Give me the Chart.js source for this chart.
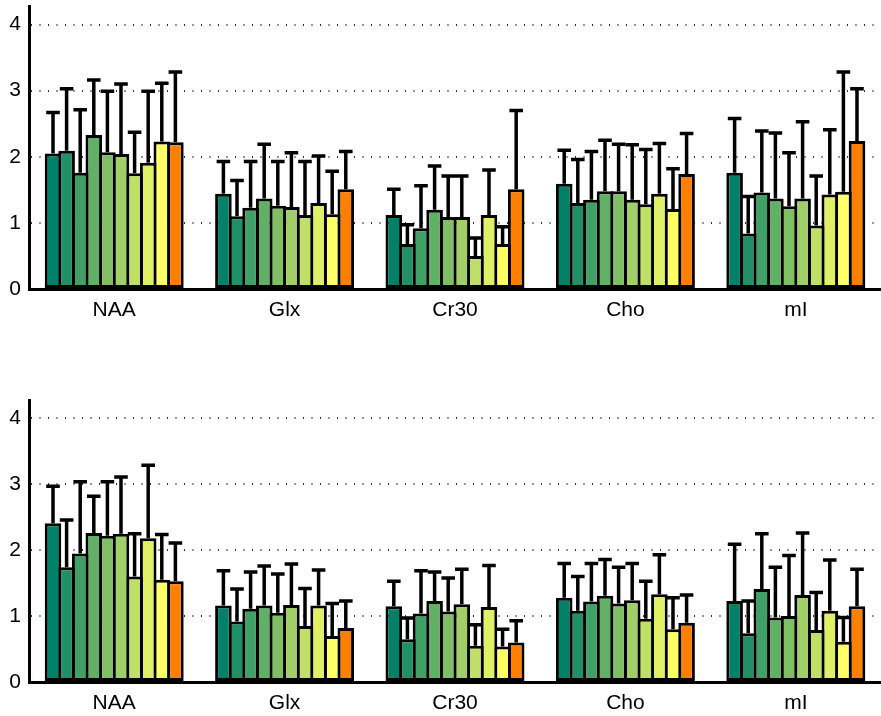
<!DOCTYPE html>
<html>
<head>
<meta charset="utf-8">
<script src="https://cdn.jsdelivr.net/npm/chart.js@4"></script>
<style>
  body { margin: 0; background: #fff; }
  canvas { position: absolute; left: 0; }
  #top { top: 0; }
  #bottom { top: 393px; }
</style>
</head>
<body>
<canvas id="top" width="881" height="330"></canvas>
<canvas id="bottom" width="881" height="323"></canvas>
<script>
const categories = ['NAA', 'Glx', 'Cr30', 'Cho', 'mI'];
const yTicks = [0, 1, 2, 3, 4];
const groupColors = ['#008066', '#209066', '#40A066', '#60B066', '#80BF66',
                     '#9FCF66', '#BFDF66', '#DFEF66', '#FFFF66', '#FF8000'];

// one row per category, 10 groups each
const topMeans = [
    [2.05, 2.09, 1.76, 2.33, 2.07, 2.04, 1.75, 1.91, 2.23, 2.22],
    [1.44, 1.10, 1.23, 1.37, 1.26, 1.24, 1.12, 1.30, 1.13, 1.51],
    [1.12, 0.68, 0.92, 1.20, 1.09, 1.09, 0.50, 1.12, 0.68, 1.51],
    [1.59, 1.30, 1.35, 1.48, 1.48, 1.35, 1.28, 1.44, 1.21, 1.74],
    [1.76, 0.84, 1.46, 1.37, 1.25, 1.37, 0.96, 1.43, 1.47, 2.24]
];
const topSD = [
    [0.62, 0.94, 0.95, 0.83, 0.92, 1.06, 0.62, 1.08, 0.88, 1.06],
    [0.49, 0.54, 0.70, 0.82, 0.67, 0.82, 0.81, 0.71, 0.65, 0.57],
    [0.39, 0.29, 0.64, 0.66, 0.62, 0.62, 0.27, 0.68, 0.26, 1.19],
    [0.51, 0.66, 0.73, 0.77, 0.71, 0.83, 0.83, 0.76, 0.61, 0.61],
    [0.82, 0.56, 0.93, 0.99, 0.81, 1.16, 0.75, 0.98, 1.81, 0.79]
];
const bottomMeans = [
    [2.41, 1.74, 1.95, 2.26, 2.22, 2.25, 1.60, 2.18, 1.55, 1.53],
    [1.16, 0.92, 1.11, 1.16, 1.05, 1.17, 0.85, 1.16, 0.70, 0.82],
    [1.15, 0.65, 1.04, 1.23, 1.07, 1.18, 0.55, 1.14, 0.54, 0.60],
    [1.28, 1.08, 1.22, 1.31, 1.19, 1.24, 0.96, 1.33, 0.80, 0.90],
    [1.23, 0.74, 1.41, 0.98, 1.00, 1.32, 0.79, 1.08, 0.61, 1.15]
];
const bottomSD = [
    [0.56, 0.72, 1.09, 0.56, 0.82, 0.86, 0.65, 1.11, 0.69, 0.58],
    [0.53, 0.49, 0.56, 0.60, 0.59, 0.62, 0.57, 0.54, 0.49, 0.41],
    [0.38, 0.32, 0.65, 0.44, 0.51, 0.53, 0.32, 0.63, 0.26, 0.33],
    [0.52, 0.52, 0.58, 0.55, 0.55, 0.56, 0.57, 0.60, 0.48, 0.42],
    [0.86, 0.49, 0.84, 0.76, 0.92, 0.94, 0.57, 0.77, 0.37, 0.56]
];

const EDGE = 3;

const errorBars = {
    id: 'errorBars',
    afterDatasetsDraw(chart) {
        const ctx = chart.ctx;
        const y = chart.scales.y;
        ctx.save();
        ctx.strokeStyle = '#000';
        ctx.lineWidth = 3.5;
        chart.data.datasets.forEach((ds, i) => {
            chart.getDatasetMeta(i).data.forEach((bar, j) => {
                const top = y.getPixelForValue(ds.data[j] + ds.sd[j]);
                const half = (bar.width - EDGE) / 2;
                ctx.beginPath();
                ctx.moveTo(bar.x, bar.y);
                ctx.lineTo(bar.x, top);
                ctx.moveTo(bar.x - half, top);
                ctx.lineTo(bar.x + half, top);
                ctx.stroke();
            });
        });
        ctx.restore();
    }
};

function makeChart(id, means, sds, padTop, xHeight) {
    // bars overlap by one edge width so neighbours share a single 3px outline
    const datasets = groupColors.map((c, g) => ({
        label: 'Group ' + (g + 1),
        data: means.map(row => row[g]),
        sd: sds.map(row => row[g]),
        backgroundColor: c,
        borderColor: '#000',
        borderWidth: EDGE,
        borderSkipped: false,
        categoryPercentage: 0.798,
        barPercentage: 1.22
    }));
    const font = { family: "'Liberation Sans', Arial, sans-serif", size: 21 };
    return new Chart(document.getElementById(id), {
        type: 'bar',
        data: { labels: categories, datasets: datasets },
        options: {
            responsive: false,
            animation: false,
            layout: { padding: { top: padTop, right: 0, left: 0, bottom: 0 } },
            plugins: { legend: { display: false }, tooltip: { enabled: false } },
            scales: {
                x: {
                    grid: { display: false, drawTicks: false },
                    border: { display: true, color: '#000', width: 3 },
                    ticks: { color: '#000', font: font, padding: 9 },
                    afterFit: s => { s.height = xHeight; s.paddingLeft = 0; s.paddingRight = 0; }
                },
                y: {
                    min: 0,
                    max: 4.28,
                    afterBuildTicks: s => { s.ticks = yTicks.map(v => ({ value: v })); },
                    grid: {
                        drawTicks: false,
                        lineWidth: 2,
                        color: c => c.tick && c.tick.value === 0 ? 'rgba(0,0,0,0)' : '#333'
                    },
                    border: { display: true, color: '#000', width: 3, dash: [1, 7.5] },
                    ticks: { color: '#000', font: font, padding: 8 },
                    afterFit: s => { s.width = 29; s.paddingTop = 0; s.paddingBottom = 0; }
                }
            }
        },
        plugins: [errorBars]
    });
}

makeChart('top', topMeans, topSD, 6, 41);
makeChart('bottom', bottomMeans, bottomSD, 7, 34);
</script>
</body>
</html>
